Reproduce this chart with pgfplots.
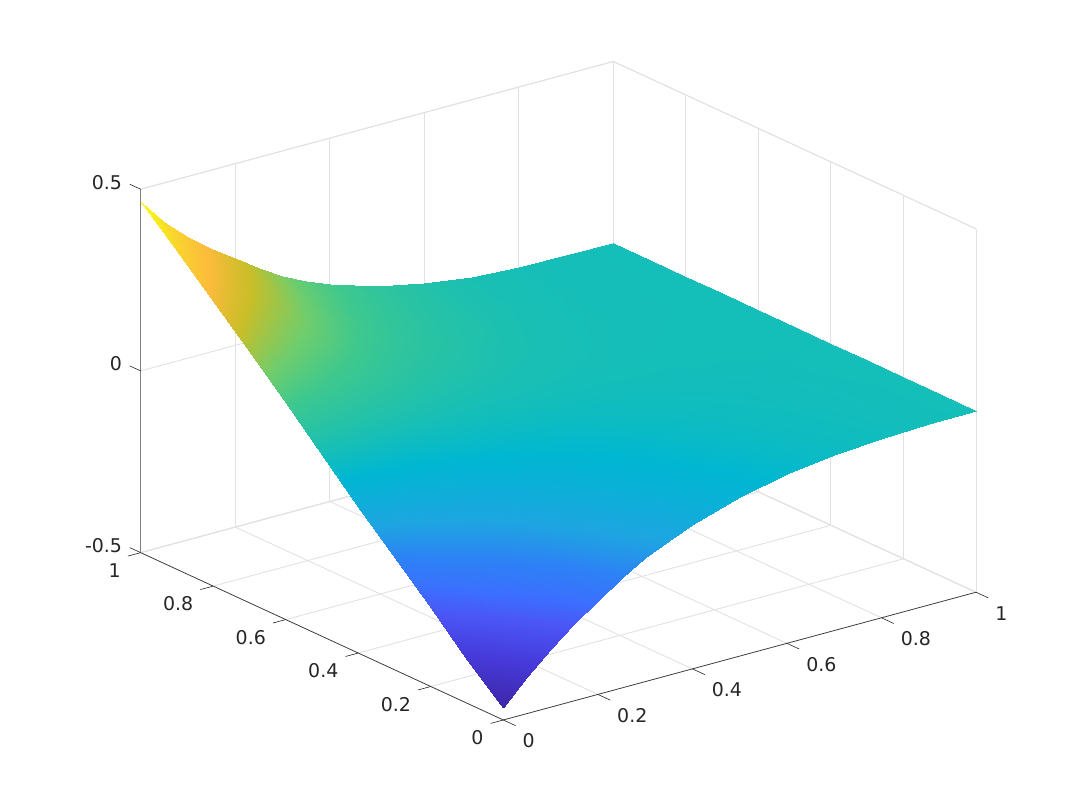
\documentclass[border=0pt]{standalone}
\usepackage{fontspec}
\setmainfont{DejaVu Sans}
\usepackage{pgfplots}
\pgfplotsset{compat=1.18}
\definecolor{axdark}{RGB}{38,38,38}
\definecolor{gridc}{RGB}{226,226,226}
\pgfplotsset{
  colormap={parula}{
    rgb255(0mm)=(62,38,168) rgb255(104mm)=(70,58,218) rgb255(183mm)=(75,85,245)
    rgb255(232mm)=(60,110,255) rgb255(295mm)=(45,130,245) rgb255(360mm)=(30,165,225)
    rgb255(454mm)=(0,183,210) rgb255(501mm)=(20,190,185) rgb255(600mm)=(62,200,142)
    rgb255(660mm)=(112,205,108) rgb255(740mm)=(200,190,40) rgb255(820mm)=(252,187,60)
    rgb255(910mm)=(249,215,45) rgb255(1000mm)=(249,251,20)
  }
}
\begin{document}
\begin{tikzpicture}
\useasboundingbox (0,0) rectangle (810pt,607.5pt);
\begin{axis}[
    at={(377.5pt,203.8pt)}, anchor=origin,
    x={(354.5pt,95.8pt)}, y={(-272pt,125.5pt)}, z={(0pt,272.55pt)},
    xmin=0, xmax=1, ymin=0, ymax=1, zmin=-0.5, zmax=0.5,
    xtick={0,0.2,0.4,0.6,0.8,1}, ytick={0,0.2,0.4,0.6,0.8,1}, ztick={-0.5,0,0.5},
    xticklabels={0,0.2,0.4,0.6,0.8,1},
    yticklabels={0,0.2,0.4,0.6,0.8,1},
    zticklabels={-0.5,0,0.5},
    grid=major,
    grid style={draw=gridc, line width=0.7pt},
    axis line style={draw=gridc, line width=0.7pt},
    tick style={draw=none},
    major tick length=0pt,
    ticklabel style={font=\fontsize{14.2}{17}\selectfont, text=axdark},
    xticklabel style={anchor=west, xshift=11pt, yshift=-15.75pt},
    yticklabel style={anchor=east, xshift=-11.4pt, yshift=-13.5pt},
    zticklabel style={anchor=east, xshift=-10.5pt, yshift=5.25pt},
    clip=false,
    colormap name=parula,
    point meta min=-0.466, point meta max=0.464,
]
\addplot3[surf, shader=interp, mesh/ordering=y varies, mesh/rows=11, mesh/cols=15] table {
0 0 -0.466
0 0.1 -0.380
0 0.2 -0.285
0 0.3 -0.193
0 0.4 -0.097
0 0.5 0
0 0.6 0.097
0 0.7 0.193
0 0.8 0.285
0 0.9 0.375
0 1 0.464
0.05 0 -0.398
0.05 0.1 -0.318
0.05 0.2 -0.239
0.05 0.3 -0.159
0.05 0.4 -0.080
0.05 0.5 0
0.05 0.6 0.079
0.05 0.7 0.157
0.05 0.8 0.236
0.05 0.9 0.314
0.05 1 0.393
0.1 0 -0.340
0.1 0.1 -0.272
0.1 0.2 -0.204
0.1 0.3 -0.136
0.1 0.4 -0.068
0.1 0.5 0
0.1 0.6 0.067
0.1 0.7 0.134
0.1 0.8 0.200
0.1 0.9 0.267
0.1 1 0.334
0.15 0 -0.290
0.15 0.1 -0.232
0.15 0.2 -0.174
0.15 0.3 -0.116
0.15 0.4 -0.058
0.15 0.5 0
0.15 0.6 0.057
0.15 0.7 0.113
0.15 0.8 0.170
0.15 0.9 0.226
0.15 1 0.283
0.2 0 -0.242
0.2 0.1 -0.194
0.2 0.2 -0.145
0.2 0.3 -0.097
0.2 0.4 -0.048
0.2 0.5 0
0.2 0.6 0.048
0.2 0.7 0.096
0.2 0.8 0.145
0.2 0.9 0.193
0.2 1 0.241
0.25 0 -0.196
0.25 0.1 -0.157
0.25 0.2 -0.118
0.25 0.3 -0.078
0.25 0.4 -0.039
0.25 0.5 0
0.25 0.6 0.039
0.25 0.7 0.078
0.25 0.8 0.118
0.25 0.9 0.157
0.25 1 0.196
0.3 0 -0.160
0.3 0.1 -0.128
0.3 0.2 -0.096
0.3 0.3 -0.064
0.3 0.4 -0.032
0.3 0.5 0
0.3 0.6 0.031
0.3 0.7 0.062
0.3 0.8 0.094
0.3 0.9 0.125
0.3 1 0.156
0.35 0 -0.130
0.35 0.1 -0.104
0.35 0.2 -0.078
0.35 0.3 -0.052
0.35 0.4 -0.026
0.35 0.5 0
0.35 0.6 0.025
0.35 0.7 0.050
0.35 0.8 0.075
0.35 0.9 0.100
0.35 1 0.125
0.4 0 -0.104
0.4 0.1 -0.083
0.4 0.2 -0.062
0.4 0.3 -0.042
0.4 0.4 -0.021
0.4 0.5 0
0.4 0.6 0.020
0.4 0.7 0.040
0.4 0.8 0.059
0.4 0.9 0.079
0.4 1 0.099
0.5 0 -0.063
0.5 0.1 -0.050
0.5 0.2 -0.038
0.5 0.3 -0.025
0.5 0.4 -0.013
0.5 0.5 0
0.5 0.6 0.012
0.5 0.7 0.023
0.5 0.8 0.035
0.5 0.9 0.046
0.5 1 0.058
0.6 0 -0.035
0.6 0.1 -0.028
0.6 0.2 -0.021
0.6 0.3 -0.014
0.6 0.4 -0.007
0.6 0.5 0
0.6 0.6 0.006
0.6 0.7 0.012
0.6 0.8 0.018
0.6 0.9 0.024
0.6 1 0.030
0.7 0 -0.018
0.7 0.1 -0.014
0.7 0.2 -0.011
0.7 0.3 -0.007
0.7 0.4 -0.004
0.7 0.5 0
0.7 0.6 0.002
0.7 0.7 0.005
0.7 0.8 0.007
0.7 0.9 0.010
0.7 1 0.012
0.8 0 -0.009
0.8 0.1 -0.007
0.8 0.2 -0.005
0.8 0.3 -0.004
0.8 0.4 -0.002
0.8 0.5 0
0.8 0.6 0.001
0.8 0.7 0.002
0.8 0.8 0.002
0.8 0.9 0.003
0.8 1 0.004
0.9 0 -0.003
0.9 0.1 -0.002
0.9 0.2 -0.002
0.9 0.3 -0.001
0.9 0.4 -0.001
0.9 0.5 0
0.9 0.6 0
0.9 0.7 0.001
0.9 0.8 0.001
0.9 0.9 0.002
0.9 1 0.002
1 0 0
1 0.1 0
1 0.2 0
1 0.3 0
1 0.4 0
1 0.5 0
1 0.6 0
1 0.7 0
1 0.8 0
1 0.9 0
1 1 0
};
% the three front axis lines are darker than the rest of the box
\draw[axdark, line width=0.45pt] (axis cs:0,1,-0.5) -- (axis cs:0,0,-0.5) -- (axis cs:1,0,-0.5);
\draw[black!50, line width=1.1pt] (axis cs:0,1,-0.5) -- (axis cs:0,1,0.5);
% tick marks run along the floor, so they are drawn by hand
\pgfplotsinvokeforeach{0,0.2,0.4,0.6,0.8,1}{
  \draw[axdark, line width=0.45pt] (axis cs:#1,0,-0.5) -- (axis cs:#1,-0.034,-0.5);
  \draw[axdark, line width=0.45pt] (axis cs:0,#1,-0.5) -- (axis cs:-0.027,#1,-0.5);
}
\pgfplotsinvokeforeach{-0.5,0,0.5}{
  \draw[axdark, line width=0.45pt] (axis cs:0,1,#1) -- (axis cs:0,1.03,#1);
}
\end{axis}
\end{tikzpicture}
\end{document}
